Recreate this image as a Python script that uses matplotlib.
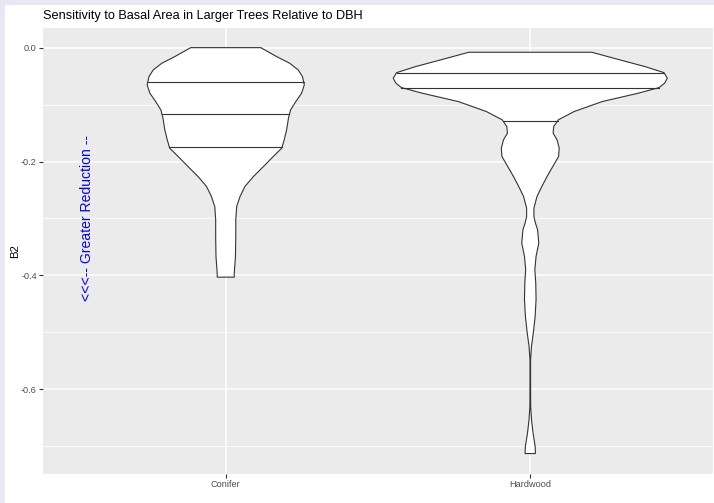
import matplotlib
matplotlib.use("Agg")
import matplotlib.pyplot as plt
from matplotlib.patches import Rectangle
import numpy as np

plt.rcParams["font.family"] = ["Liberation Sans", "DejaVu Sans"]

# Groups on the x axis
categories = ["Conifer", "Hardwood"]

# Violin outlines: B2 value and half-width (in category units)
conifer_b2 = [0.0, -0.0157, -0.0274, -0.0391, -0.0508, -0.0654, -0.0801, -0.0947,
              -0.1093, -0.1239, -0.1444, -0.1619, -0.1765, -0.1912, -0.2087, -0.2263,
              -0.2438, -0.2614, -0.2789, -0.3023, -0.3315, -0.3666, -0.3958, -0.403]
conifer_half = [0.115, 0.167, 0.210, 0.238, 0.252, 0.258, 0.249, 0.230,
                0.213, 0.206, 0.200, 0.192, 0.184, 0.156, 0.124, 0.091,
                0.063, 0.047, 0.036, 0.033, 0.033, 0.032, 0.028, 0.028]

hardwood_b2 = [-0.0081, -0.0216, -0.0333, -0.0439, -0.0537, -0.0625, -0.0701, -0.0801,
               -0.0947, -0.1122, -0.1268, -0.1385, -0.1502, -0.1619, -0.1765,
               -0.1912, -0.2087, -0.2263, -0.2438, -0.2614, -0.2818, -0.2965, -0.3081,
               -0.3198, -0.3432, -0.3667, -0.39, -0.4133, -0.4426, -0.4719, -0.501,
               -0.5245, -0.548, -0.589, -0.63, -0.653, -0.6765, -0.70, -0.7128]
hardwood_half = [0.202, 0.295, 0.377, 0.439, 0.450, 0.441, 0.423, 0.354,
                 0.236, 0.144, 0.092, 0.077, 0.075, 0.088, 0.095,
                 0.093, 0.074, 0.055, 0.038, 0.022, 0.012, 0.012, 0.017,
                 0.024, 0.028, 0.019, 0.015, 0.018, 0.019, 0.016, 0.010,
                 0.004, 0.001, 0.001, 0.0013, 0.004, 0.009, 0.016, 0.017]

# 25th, 50th and 75th percentiles
conifer_quantiles = [-0.061, -0.117, -0.175]
hardwood_quantiles = [-0.044, -0.070, -0.128]

y_ticks = [0.0, -0.2, -0.4, -0.6]
y_tick_labels = ["0.0", "-0.2", "-0.4", "-0.6"]

W, H = 714, 503
fig = plt.figure(figsize=(W / 100, H / 100), dpi=100)
fig.patch.set_facecolor("white")
lav = "#E8E8F5"
fig.patches.append(Rectangle((0, 0), 5 / W, 1, transform=fig.transFigure,
                             facecolor=lav, edgecolor="none", zorder=0))
fig.patches.append(Rectangle((0, 1 - 5 / H), 1, 5 / H, transform=fig.transFigure,
                             facecolor=lav, edgecolor="none", zorder=0))

ax = fig.add_axes([43 / W, 1 - 474 / H, 670 / W, 446 / H])
ax.set_facecolor("#EBEBEB")
for s in ax.spines.values():
    s.set_visible(False)

ax.set_xlim(0.4, 2.6)
ax.set_ylim(-0.7487, 0.0345)

ax.set_yticks(y_ticks)
ax.set_yticklabels(y_tick_labels)
ax.set_yticks([-0.1, -0.3, -0.5, -0.7], minor=True)
ax.set_xticks([1, 2])
ax.set_xticklabels(categories)
ax.grid(which="major", color="white", linewidth=1.1, zorder=0)
ax.grid(which="minor", axis="y", color="white", linewidth=0.55, zorder=0)
ax.set_axisbelow(True)
ax.tick_params(axis="both", which="major", length=3, width=0.8, color="#333333",
               labelcolor="#4D4D4D", labelsize=6.6, pad=1.5)
ax.tick_params(axis="both", which="minor", length=0)

profiles = [(conifer_b2, conifer_half, conifer_quantiles),
            (hardwood_b2, hardwood_half, hardwood_quantiles)]
edge = "#333333"
for i, (yv, hw, qs) in enumerate(profiles):
    pos = i + 1
    yv = np.asarray(yv)
    hw = np.asarray(hw)
    xs = np.concatenate([pos - hw, (pos + hw)[::-1], [pos - hw[0]]])
    ys = np.concatenate([yv, yv[::-1], [yv[0]]])
    ax.fill(xs, ys, facecolor="white", edgecolor=edge, linewidth=0.8, zorder=3)
    for q in qs:
        w = np.interp(q, yv[::-1], hw[::-1])
        ax.plot([pos - w, pos + w], [q, q], color=edge, linewidth=0.8, zorder=4)

ax.text(0.545, -0.299, "<<<-- Greater Reduction --", rotation=90, color="blue",
        fontsize=10.1, ha="center", va="center", zorder=5)

fig.text(15 / W, 1 - 251 / H, "B2", rotation=90, fontsize=8.2, color="black",
         ha="center", va="center")
fig.text(43 / W, 1 - 16 / H, "Sensitivity to Basal Area in Larger Trees Relative to DBH",
         fontsize=9.2, ha="left", va="center", color="black")

fig.savefig("out.png", dpi=100)
